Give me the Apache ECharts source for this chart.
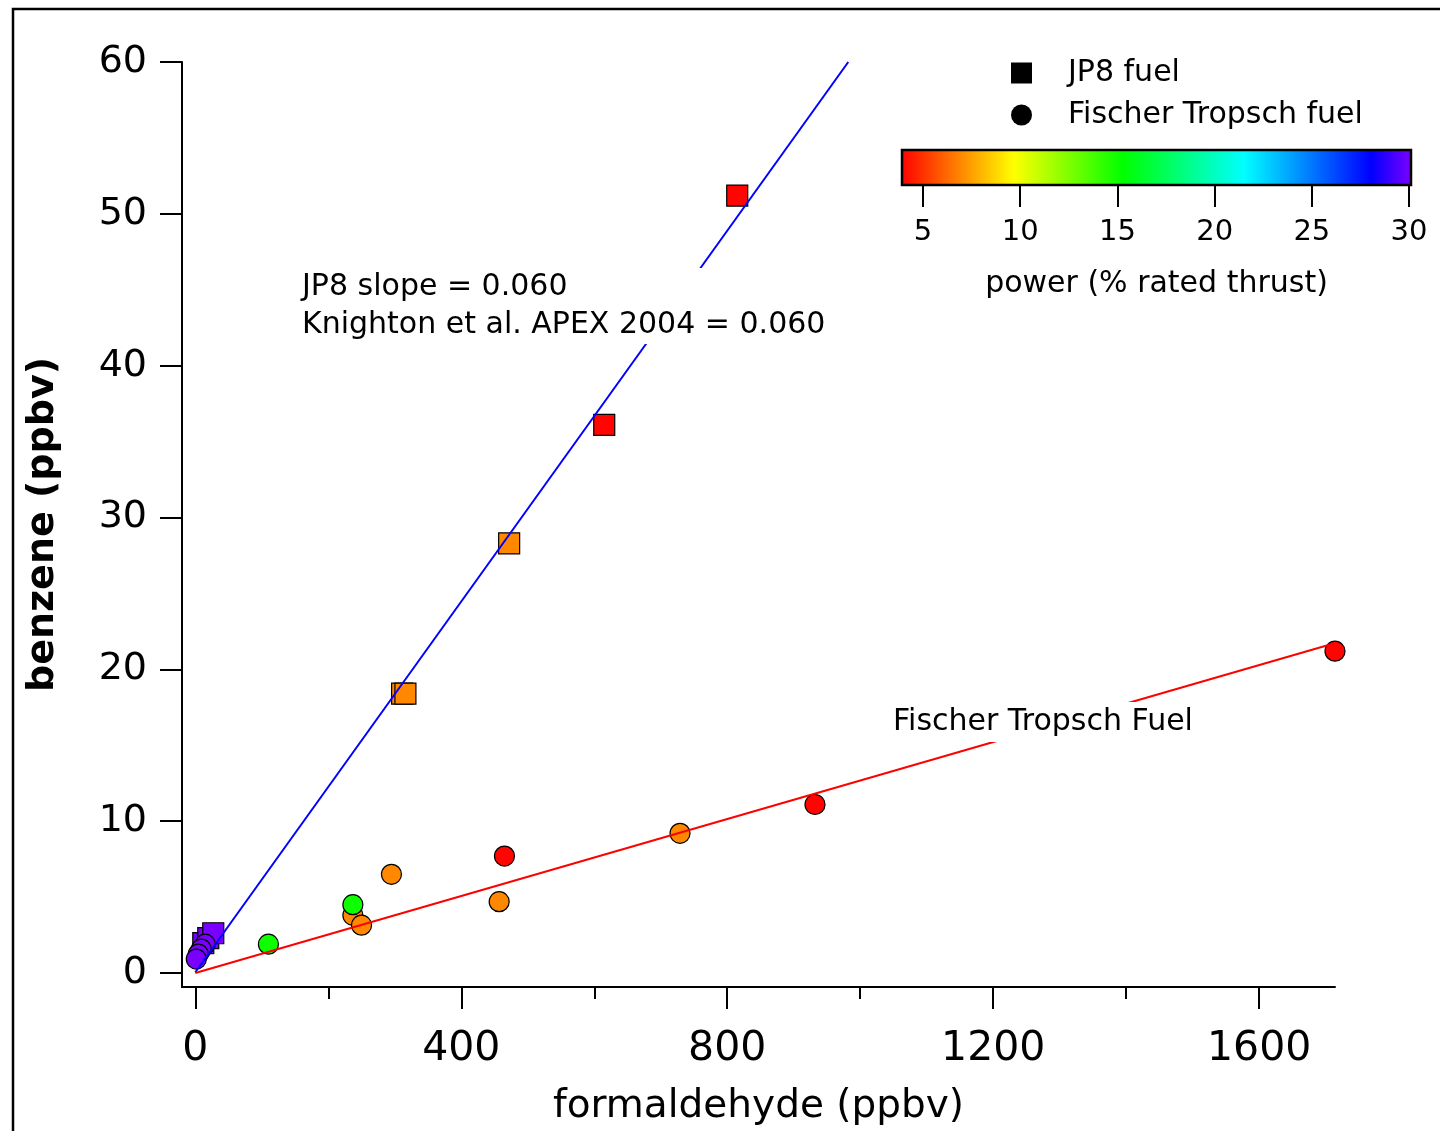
<!DOCTYPE html>
<html>
<head>
<meta charset="utf-8">
<title>benzene vs formaldehyde</title>
<script src="https://cdn.jsdelivr.net/npm/echarts@6.0.0/dist/echarts.min.js"></script>
<style>
  html, body { margin: 0; padding: 0; background: #fff; }
  #chart { width: 1440px; height: 1131px; }
</style>
</head>
<body>
<div id="chart"></div>
<script>
// benzene vs formaldehyde, coloured by engine power

const FONT = 'DejaVu Sans';

// JP8 fuel (squares)
const jp8Formaldehyde = [815, 615, 472, 311, 316, 12, 19.5, 27];
const jp8Benzene = [51.2, 36.1, 28.3, 18.4, 18.4, 1.97, 2.3, 2.62];
const jp8Power = [4, 4, 7, 7, 7, 30, 30, 30];

// Fischer Tropsch fuel (circles)
const ftFormaldehyde = [1714, 932, 729, 465, 457, 295, 237, 237, 250, 110, 15, 9, 4.5, 1.5];
const ftBenzene = [21.2, 11.1, 9.2, 7.7, 4.7, 6.5, 3.8, 4.5, 3.15, 1.9, 1.9, 1.57, 1.25, 0.92];
const ftPower = [4, 4, 7, 4, 7, 7, 7, 15, 7, 15, 30, 30, 30, 30];

// fit lines (end points)
const jp8FitX = [0, 982];
const jp8FitY = [0.05, 60];
const ftFitX = [0, 1712];
const ftFitY = [0, 21.7];

// axis ticks
const xMajorTicks = [0, 400, 800, 1200, 1600];
const xMinorTicks = [200, 600, 1000, 1400];
const yTicks = [0, 10, 20, 30, 40, 50, 60];
const powerTicks = [5, 10, 15, 20, 25, 30];

// colour scale (rainbow)
const powerStops = [3.92, 9.7, 15.3, 21.5, 28.0, 30.1];
const stopColors = ['#ff0000', '#ffff00', '#00ff00', '#00ffff', '#0000ff', '#7f00ff'];

function powerColor(p) {
    let i = 0;
    while (i < powerStops.length - 2 && p > powerStops[i + 1]) i++;
    let t = (p - powerStops[i]) / (powerStops[i + 1] - powerStops[i]);
    t = Math.max(0, Math.min(1, t));
    return echarts.color.lerp(t, [stopColors[i], stopColors[i + 1]]);
}

const zip = (xs, ys, ps) => xs.map((x, i) => ps ? [x, ys[i], ps[i]] : [x, ys[i]]);
const plain = v => String(v);

const pMin = powerStops[0], pMax = powerStops[powerStops.length - 1];
const barGradient = new echarts.graphic.LinearGradient(0, 0, 1, 0,
    powerStops.map((s, i) => ({ offset: (s - pMin) / (pMax - pMin), color: stopColors[i] })));

const chart = echarts.init(document.getElementById('chart'));

const option = {
    animation: false,
    backgroundColor: '#fff',
    textStyle: { fontFamily: FONT },
    grid: [
        { left: 182, top: 62, right: 105, bottom: 138 },
        // colour bar
        { left: 902, top: 150, width: 509, height: 35, show: true,
          backgroundColor: barGradient, borderColor: '#000', borderWidth: 2.5 }
    ],
    xAxis: [
        {
            type: 'value', gridIndex: 0, position: 'bottom',
            min: -20, max: 1714,
            name: 'formaldehyde (ppbv)', nameLocation: 'middle', nameGap: 100,
            nameTextStyle: { fontSize: 39, color: '#000', fontFamily: FONT },
            axisLine: { show: true, onZero: false, lineStyle: { color: '#000', width: 2 } },
            axisTick: { show: true, customValues: xMajorTicks, length: 22, lineStyle: { color: '#000', width: 2 } },
            axisLabel: { customValues: xMajorTicks, formatter: plain, fontSize: 41, color: '#000', margin: 42, fontFamily: FONT },
            splitLine: { show: false }
        },
        {
            // minor ticks
            type: 'value', gridIndex: 0, position: 'bottom',
            min: -20, max: 1714,
            axisLine: { show: false, onZero: false },
            axisTick: { show: true, customValues: xMinorTicks, length: 12, lineStyle: { color: '#000', width: 2 } },
            axisLabel: { show: false },
            splitLine: { show: false }
        },
        {
            type: 'value', gridIndex: 1, position: 'bottom',
            min: pMin, max: pMax,
            name: 'power (% rated thrust)', nameLocation: 'middle', nameGap: 84,
            nameTextStyle: { fontSize: 30, color: '#000', fontFamily: FONT },
            axisLine: { show: false, onZero: false },
            axisTick: { show: true, customValues: powerTicks, length: 22, lineStyle: { color: '#000', width: 2 } },
            axisLabel: { customValues: powerTicks, fontSize: 29, color: '#000', margin: 33, fontFamily: FONT },
            splitLine: { show: false }
        }
    ],
    yAxis: [
        {
            type: 'value', gridIndex: 0,
            min: -0.92, max: 60,
            name: 'benzene (ppbv)', nameLocation: 'middle', nameGap: 120,
            nameTextStyle: { fontSize: 38, fontWeight: 'bold', color: '#000', fontFamily: FONT },
            axisLine: { show: true, onZero: false, lineStyle: { color: '#000', width: 2 } },
            axisTick: { show: true, customValues: yTicks, length: 22, lineStyle: { color: '#000', width: 2 } },
            axisLabel: { customValues: yTicks, fontSize: 38, color: '#000', margin: 35, fontFamily: FONT },
            splitLine: { show: false }
        },
        { type: 'value', gridIndex: 1, min: 0, max: 1, show: false }
    ],
    legend: {
        orient: 'vertical', left: 1006, top: 53,
        itemWidth: 21, itemHeight: 21, itemGap: 12,
        selectedMode: false,
        textStyle: { fontSize: 30, color: '#000', fontFamily: FONT, padding: [0, 0, 0, 31] },
        data: [
            { name: 'JP8 fuel', icon: 'rect', itemStyle: { color: '#000', borderWidth: 0 } },
            { name: 'Fischer Tropsch fuel', icon: 'circle', itemStyle: { color: '#000', borderWidth: 0 } }
        ]
    },
    series: [
        {
            name: 'JP8 fuel', type: 'scatter', xAxisIndex: 0, yAxisIndex: 0,
            symbol: 'rect', symbolSize: 21, z: 2,
            itemStyle: { color: p => powerColor(p.value[2]), borderColor: '#000', borderWidth: 1.2, opacity: 1 },
            data: zip(jp8Formaldehyde, jp8Benzene, jp8Power)
        },
        {
            name: 'Fischer Tropsch fuel', type: 'scatter', xAxisIndex: 0, yAxisIndex: 0,
            symbol: 'circle', symbolSize: 20, z: 2,
            itemStyle: { color: p => powerColor(p.value[2]), borderColor: '#000', borderWidth: 1.2, opacity: 1 },
            data: zip(ftFormaldehyde, ftBenzene, ftPower)
        },
        {
            name: 'JP8 fit', type: 'line', xAxisIndex: 0, yAxisIndex: 0,
            showSymbol: false, z: 3,
            lineStyle: { color: '#0000ff', width: 2 },
            data: zip(jp8FitX, jp8FitY)
        },
        {
            name: 'FT fit', type: 'line', xAxisIndex: 0, yAxisIndex: 0,
            showSymbol: false, z: 3,
            lineStyle: { color: '#ff0000', width: 2 },
            data: zip(ftFitX, ftFitY)
        }
    ],
    graphic: [
        // frame round the figure
        { type: 'rect', z: 100, silent: true,
          shape: { x: 13, y: 9, width: 1460, height: 1160 },
          style: { fill: 'none', stroke: '#000', lineWidth: 2.5 } },
        // annotations (white box hides the fit line under the text)
        { type: 'text', z: 100, x: 298, y: 268,
          style: { text: 'JP8 slope = 0.060\nKnighton et al. APEX 2004 = 0.060',
                   font: '30px "DejaVu Sans"', fill: '#000', lineHeight: 38,
                   backgroundColor: '#fff', padding: [0, 6, 0, 4] } },
        { type: 'text', z: 100, x: 889, y: 702,
          style: { text: 'Fischer Tropsch Fuel',
                   font: '30px "DejaVu Sans"', fill: '#000', lineHeight: 40,
                   backgroundColor: '#fff', padding: [0, 4, 0, 4] } }
    ]
};

chart.setOption(option);
</script>
</body>
</html>
